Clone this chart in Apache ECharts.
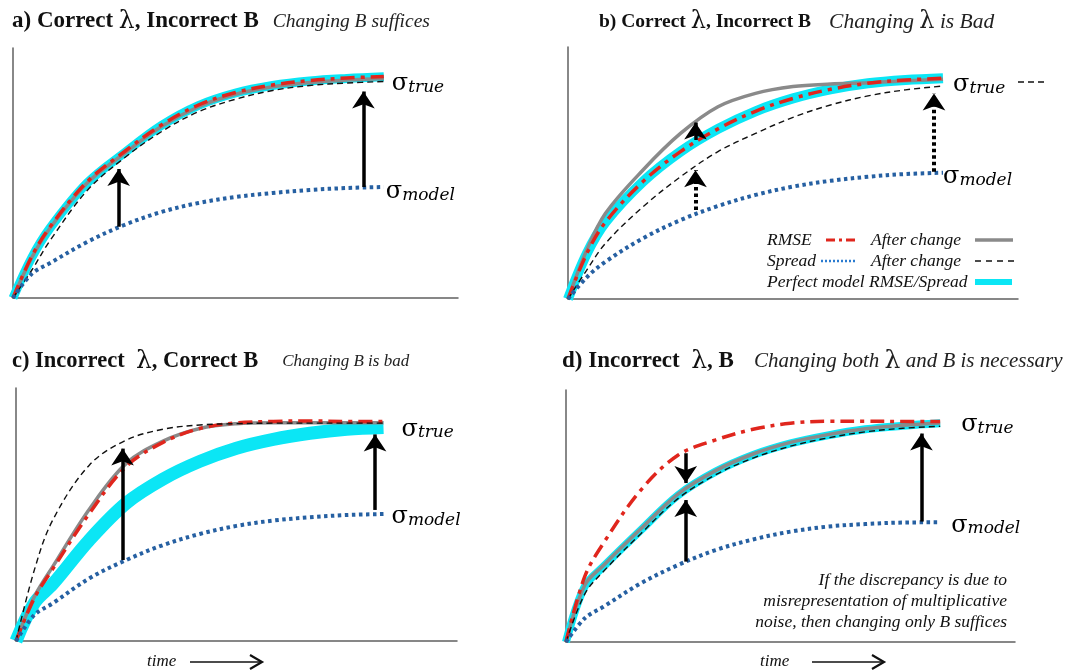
<!DOCTYPE html>
<html><head><meta charset="utf-8">
<script src="https://cdn.jsdelivr.net/npm/echarts@6/dist/echarts.min.js"></script>
<style>html,body{margin:0;padding:0;background:#fff}#c{width:1069px;height:671px}</style>
</head><body><div id="c"></div>
<script>
// ---------- data (time in arbitrary units, values normalised 0..1) ----------
const timeSteps = [0, 5, 10, 20, 30, 40, 50, 60, 70, 80, 90, 100];

// a) Correct lambda, Incorrect B
const aPerfect     = [0, 0.16, 0.28, 0.46, 0.58, 0.69, 0.77, 0.82, 0.85, 0.868, 0.878, 0.885];
const aRmse        = [0, 0.165, 0.285, 0.465, 0.585, 0.692, 0.772, 0.822, 0.852, 0.87, 0.88, 0.886];
const aRmseAfter   = [0, 0.16, 0.28, 0.46, 0.578, 0.686, 0.765, 0.815, 0.845, 0.862, 0.872, 0.878];
const aSpread      = [0, 0.096, 0.14, 0.224, 0.292, 0.344, 0.38, 0.404, 0.42, 0.432, 0.44, 0.444];
const aSpreadAfter = [0, 0.11, 0.23, 0.43, 0.56, 0.665, 0.745, 0.795, 0.83, 0.85, 0.86, 0.866];
const aArrows      = [[28.5, 0.285, 0.55, 'solid'], [94.5, 0.444, 0.86, 'solid']];

// b) Correct lambda, Incorrect B - changing lambda is bad
const bPerfect     = [0, 0.18, 0.305, 0.466, 0.585, 0.675, 0.745, 0.796, 0.832, 0.856, 0.869, 0.876];
const bRmse        = [0, 0.18, 0.305, 0.466, 0.585, 0.675, 0.745, 0.796, 0.832, 0.856, 0.869, 0.876];
const bRmseAfter   = [0, 0.194, 0.34, 0.512, 0.657, 0.763, 0.816, 0.843, 0.853, 0.858, 0.866, 0.872];
const bSpread      = [0, 0.086, 0.148, 0.241, 0.313, 0.369, 0.413, 0.446, 0.469, 0.485, 0.496, 0.501];
const bSpreadAfter = [0, 0.115, 0.221, 0.366, 0.485, 0.585, 0.657, 0.721, 0.77, 0.806, 0.83, 0.845];
const bArrows      = [[34, 0.631, 0.734, 'solid'], [34, 0.353, 0.545, 'dotted'], [97.6, 0.505, 0.849, 'dotted']];

// c) Incorrect lambda, Correct B
const cPerfect     = [0, 0.15, 0.225, 0.4, 0.545, 0.64, 0.71, 0.762, 0.797, 0.821, 0.837, 0.844];
const cRmse        = [0, 0.17, 0.285, 0.505, 0.69, 0.785, 0.84, 0.862, 0.868, 0.87, 0.868, 0.868];
const cRmseAfter   = [0, 0.175, 0.294, 0.522, 0.702, 0.79, 0.84, 0.859, 0.863, 0.863, 0.863, 0.863];
const cSpread      = [0, 0.103, 0.149, 0.248, 0.32, 0.379, 0.423, 0.455, 0.476, 0.489, 0.498, 0.502];
const cSpreadAfter = [0, 0.281, 0.478, 0.696, 0.794, 0.837, 0.854, 0.859, 0.861, 0.861, 0.861, 0.861];
const cArrows      = [[29, 0.32, 0.794, 'solid'], [97.7, 0.518, 0.85, 'solid']];

// d) Incorrect lambda, B
const dPerfect     = [0, 0.22, 0.299, 0.444, 0.583, 0.676, 0.742, 0.788, 0.82, 0.844, 0.858, 0.868];
const dRmse        = [0, 0.259, 0.392, 0.603, 0.742, 0.802, 0.844, 0.868, 0.876, 0.876, 0.875, 0.875];
const dRmseAfter   = [0, 0.225, 0.304, 0.449, 0.588, 0.68, 0.746, 0.792, 0.823, 0.846, 0.86, 0.869];
const dSpread      = [0, 0.094, 0.14, 0.233, 0.306, 0.365, 0.407, 0.438, 0.458, 0.468, 0.474, 0.475];
const dSpreadAfter = [0, 0.19, 0.28, 0.43, 0.57, 0.664, 0.73, 0.777, 0.81, 0.834, 0.848, 0.856];
const dArrows      = [[32, 0.319, 0.597, 'solid'], [32, 0.749, 0.597, 'solid'], [95, 0.478, 0.861, 'solid']];

// ---------- text ----------
const titles = [
  ['a) Correct ', 'λ', ', Incorrect B', 'Changing B suffices'],
  ['b) Correct ', 'λ', ', Incorrect B', 'Changing ', 'λ', ' is Bad'],
  ['c) Incorrect  ', 'λ', ', Correct B', 'Changing B is bad'],
  ['d) Incorrect  ', 'λ', ', B', 'Changing both ', 'λ', ' and B is necessary']
];
const legendRows = [
  ['RMSE', 'After change'],
  ['Spread', 'After change'],
  ['Perfect model RMSE/Spread']
];
const noteLines = ['If the discrepancy is due to', 'misrepresentation of multiplicative', 'noise, then changing only B suffices'];
const timeLabel = 'time';

// ---------- layout / style ----------
const grids = [
  {left: 13, top: 48, width: 445, height: 250},
  {left: 568, top: 47, width: 450, height: 252},
  {left: 16, top: 388, width: 441, height: 253},
  {left: 566, top: 390, width: 449, height: 252}
];
const panels = [
  {p: aPerfect, r: aRmse, ra: aRmseAfter, s: aSpread, sa: aSpreadAfter, arrows: aArrows, cyanW: 9},
  {p: bPerfect, r: bRmse, ra: bRmseAfter, s: bSpread, sa: bSpreadAfter, arrows: bArrows, cyanW: 10},
  {p: cPerfect, r: cRmse, ra: cRmseAfter, s: cSpread, sa: cSpreadAfter, arrows: cArrows, cyanW: 13},
  {p: dPerfect, r: dRmse, ra: dRmseAfter, s: dSpread, sa: dSpreadAfter, arrows: dArrows, cyanW: 8}
];
const COL = {cyan: '#0be6f5', gray: '#8a8a8a', red: '#e0261d', black: '#111', blue: '#2660a2', axis: '#606060'};
const SERIF = 'Liberation Serif, Times New Roman, serif';
const MATH = 'DejaVu Serif, serif';
const ARROW_SIZE = 17;

const chart = echarts.init(document.getElementById('c'), null, {renderer: 'canvas'});

const xAxis = [], yAxis = [], series = [];
grids.forEach((g, i) => {
  xAxis.push({type: 'value', gridIndex: i, min: 0, max: 120, axisLine: {show: true, onZero: false, lineStyle: {color: COL.axis, width: 1.5}},
    axisTick: {show: false}, axisLabel: {show: false}, splitLine: {show: false}});
  yAxis.push({type: 'value', gridIndex: i, min: 0, max: 1, axisLine: {show: true, onZero: false, lineStyle: {color: COL.axis, width: 1.5}},
    axisTick: {show: false}, axisLabel: {show: false}, splitLine: {show: false}});
});

function pts(arr) { return timeSteps.map((t, k) => [t, arr[k]]); }
function line(name, i, arr, lineStyle, z) {
  return {type: 'line', name: name, xAxisIndex: i, yAxisIndex: i, data: pts(arr), smooth: 0.35,
    showSymbol: false, symbol: 'none', lineStyle: lineStyle, z: z, silent: true};
}

panels.forEach((P, i) => {
  series.push(line('Perfect model RMSE/Spread', i, P.p, {color: COL.cyan, width: P.cyanW, cap: 'butt'}, 1));
  series.push(line('RMSE after change', i, P.ra, {color: COL.gray, width: 3.5}, 2));
  series.push(line('RMSE', i, P.r, {color: COL.red, width: 3.5, type: [14, 6, 4, 6]}, 3));
  series.push(line('Spread after change', i, P.sa, {color: COL.black, width: 1.4, type: [6, 4]}, 4));
  series.push(line('Spread', i, P.s, {color: COL.blue, width: 4, type: [3.5, 3.5]}, 4));
  const hPx = grids[i].height;
  const adj = (ARROW_SIZE / 2) / hPx;
  series.push({
    type: 'lines', coordinateSystem: 'cartesian2d', xAxisIndex: i, yAxisIndex: i, z: 6, silent: true,
    symbol: ['none', 'arrow'], symbolSize: ARROW_SIZE,
    data: P.arrows.map(a => {
      const dir = a[2] > a[1] ? 1 : -1;
      return {coords: [[a[0], a[1]], [a[0], a[2] - dir * adj]],
        lineStyle: a[3] === 'dotted' ? {color: '#000', width: 4, type: [3.5, 3], opacity: 1} : {color: '#000', width: 3.5, type: 'solid', opacity: 1}};
    })
  });
});

// titles
const titleLayout = [
  {left: 7, top: 4, b: 23, l: 25, i: 19.5, gap: 14},
  {left: 594, top: 5, b: 19.5, l: 24, i: 21.5, gap: 18},
  {left: 7, top: 344, b: 22.5, l: 25, i: 17, gap: 24},
  {left: 557, top: 344, b: 23, l: 25, i: 21, gap: 20}
];
const title = titles.map((t, k) => {
  const L = titleLayout[k];
  let text = '{b|' + t[0] + '}{l|' + t[1] + '}{b|' + t[2] + '}{sp| }';
  if (t.length === 4) text += '{i|' + t[3] + '}';
  else text += '{i|' + t[3] + '}{li|' + t[4] + '}{i|' + t[5] + '}';
  return {left: L.left, top: L.top, text: text, textStyle: {fontWeight: 'normal', rich: {
    b: {fontFamily: SERIF, fontWeight: 'bold', fontSize: L.b, color: '#111'},
    l: {fontFamily: MATH, fontWeight: 'normal', fontSize: L.l, color: '#111'},
    li: {fontFamily: MATH, fontWeight: 'normal', fontSize: L.l, color: '#222'},
    sp: {fontWeight: 'normal', fontSize: 12, width: L.gap},
    i: {fontFamily: SERIF, fontWeight: 'normal', fontStyle: 'italic', fontSize: L.i, color: '#222'}
  }}};
});

chart.setOption({animation: false, backgroundColor: '#fff', grid: grids.map(g => Object.assign({containLabel: false}, g)),
  xAxis: xAxis, yAxis: yAxis, series: series, title: title});

// σ labels, legend, annotations (positions derived from data ends)
const sigmaOffsets = [
  {t: [8, 7], m: [2, 5]},
  {t: [10, 7], m: [0, 4]},
  {t: [18, 2], m: [8, 3]},
  {t: [21, 2], m: [11, 3]}
];
const graphic = [];
const sigmaRich = {s: {fontFamily: MATH, fontSize: 24, color: '#111', verticalAlign: 'bottom'},
  sub: {fontFamily: MATH, fontStyle: 'italic', fontSize: 17, color: '#111', lineHeight: 12, verticalAlign: 'bottom'}};
panels.forEach((P, i) => {
  const last = timeSteps.length - 1;
  const pe = chart.convertToPixel({gridIndex: i}, [timeSteps[last], P.p[last]]);
  const me = chart.convertToPixel({gridIndex: i}, [timeSteps[last], P.s[last]]);
  const o = sigmaOffsets[i];
  graphic.push({type: 'text', x: pe[0] + o.t[0], y: pe[1] + o.t[1], style: {text: '{s|σ}{sub|true}', rich: sigmaRich, verticalAlign: 'middle'}, z: 10});
  graphic.push({type: 'text', x: me[0] + o.m[0], y: me[1] + o.m[1], style: {text: '{s|σ}{sub|model}', rich: sigmaRich, verticalAlign: 'middle'}, z: 10});
});
// trailing dashed segment after σ_true in panel b
graphic.push({type: 'line', shape: {x1: 1018, y1: 82, x2: 1046, y2: 82}, style: {stroke: '#111', lineWidth: 1.4, lineDash: [6, 4]}});

// legend in panel b
const legFont = 'italic 17.5px ' + SERIF;
const legY = [240, 261, 282];
graphic.push({type: 'text', x: 767, y: legY[0], style: {text: legendRows[0][0], font: legFont, fill: '#111', verticalAlign: 'middle'}});
graphic.push({type: 'line', shape: {x1: 826, y1: legY[0], x2: 856, y2: legY[0]}, style: {stroke: COL.red, lineWidth: 3, lineDash: [9, 4, 3, 4]}});
graphic.push({type: 'text', x: 871, y: legY[0], style: {text: legendRows[0][1], font: legFont, fill: '#111', verticalAlign: 'middle'}});
graphic.push({type: 'line', shape: {x1: 975, y1: legY[0], x2: 1013, y2: legY[0]}, style: {stroke: COL.gray, lineWidth: 3.5}});
graphic.push({type: 'text', x: 767, y: legY[1], style: {text: legendRows[1][0], font: legFont, fill: '#111', verticalAlign: 'middle'}});
graphic.push({type: 'line', shape: {x1: 821, y1: legY[1], x2: 856, y2: legY[1]}, style: {stroke: '#2a7bd0', lineWidth: 2.5, lineDash: [2, 2]}});
graphic.push({type: 'text', x: 871, y: legY[1], style: {text: legendRows[1][1], font: legFont, fill: '#111', verticalAlign: 'middle'}});
graphic.push({type: 'line', shape: {x1: 975, y1: legY[1], x2: 1014, y2: legY[1]}, style: {stroke: '#111', lineWidth: 1.4, lineDash: [6, 5]}});
graphic.push({type: 'text', x: 767, y: legY[2], style: {text: legendRows[2][0], font: legFont, fill: '#111', verticalAlign: 'middle'}});
graphic.push({type: 'line', shape: {x1: 975, y1: legY[2], x2: 1012, y2: legY[2]}, style: {stroke: COL.cyan, lineWidth: 6}});

// note in panel d
noteLines.forEach((s, k) => {
  graphic.push({type: 'text', x: 1007, y: 580 + k * 21, style: {text: s, font: 'italic 17.5px ' + SERIF, fill: '#111', align: 'right', verticalAlign: 'middle'}});
});

// time labels with arrows (panels c and d)
[[147, 190, 262], [760, 812, 884]].forEach(a => {
  const y = 662;
  graphic.push({type: 'text', x: a[0], y: y, style: {text: timeLabel, font: 'italic 17px ' + SERIF, fill: '#111', verticalAlign: 'middle'}});
  graphic.push({type: 'line', shape: {x1: a[1], y1: y, x2: a[2], y2: y}, style: {stroke: '#111', lineWidth: 1.5}});
  graphic.push({type: 'polyline', shape: {points: [[a[2] - 12, y - 7], [a[2], y], [a[2] - 12, y + 7]]}, style: {stroke: '#111', lineWidth: 2.2, fill: null}});
});

chart.setOption({graphic: graphic});
</script>
</body></html>
